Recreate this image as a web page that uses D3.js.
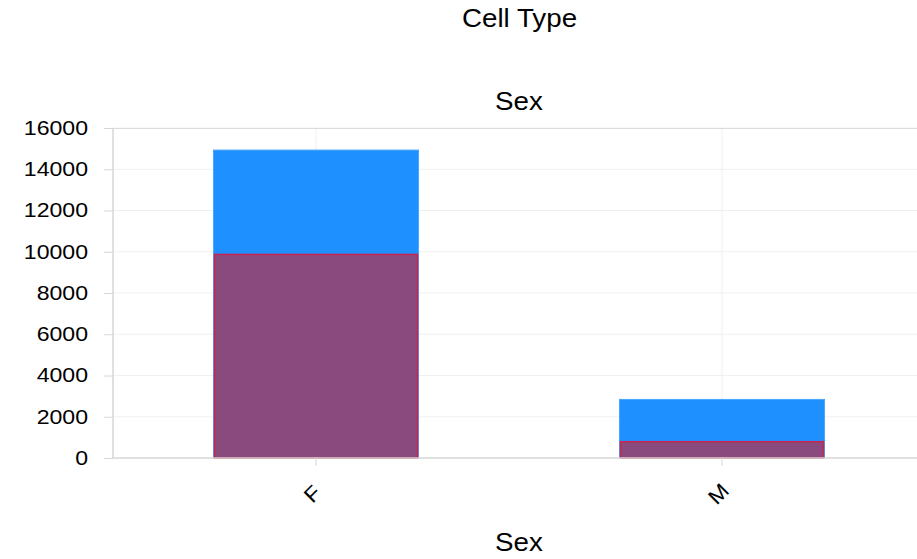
<!DOCTYPE html>
<html><head><meta charset="utf-8">
<script src="https://cdn.jsdelivr.net/npm/d3@7"></script>
<style>body{margin:0;background:#fff}svg{display:block}text{font-family:"Liberation Sans",Arial,sans-serif;fill:#000}</style>
</head><body>
<script>
const categories = ["F", "M"];
const totalValues = [14930, 2840];
const subsetValues = [9870, 790];
const yTicks = [0, 2000, 4000, 6000, 8000, 10000, 12000, 14000, 16000];

const W = 917, H = 559;
const svg = d3.select("body").append("svg").attr("width", W).attr("height", H);
const FONT = "Liberation Sans, Arial, sans-serif";

const x = d3.scaleBand().domain(categories).range([113, 925]).paddingInner(0.495).paddingOuter(0.2475);
const y = d3.scaleLinear().domain([0, 16000]).range([458, 128]);

// grid
svg.append("g").selectAll("line").data(yTicks.slice(1)).join("line")
  .attr("x1", 113).attr("x2", W).attr("y1", d => y(d)).attr("y2", d => y(d))
  .attr("stroke", "#f0f0f0").attr("stroke-width", 1);
svg.append("g").selectAll("line").data(categories).join("line")
  .attr("x1", d => x(d) + x.bandwidth()/2).attr("x2", d => x(d) + x.bandwidth()/2)
  .attr("y1", 128).attr("y2", 458).attr("stroke", "#f0f0f0");
svg.append("line").attr("x1", 113).attr("x2", W).attr("y1", 128.5).attr("y2", 128.5).attr("stroke", "#dcdcdc");

// bars
svg.append("g").selectAll("rect").data(categories).join("rect")
  .attr("x", d => x(d)).attr("width", x.bandwidth())
  .attr("y", (d, i) => y(totalValues[i])).attr("height", (d, i) => y(0) - y(totalValues[i]))
  .attr("fill", "#1e90ff").attr("stroke", "#4aa6ff").attr("stroke-width", 1);
svg.append("g").selectAll("rect").data(categories).join("rect")
  .attr("x", d => x(d) + 1).attr("width", x.bandwidth() - 2)
  .attr("y", (d, i) => y(subsetValues[i])).attr("height", (d, i) => y(0) - y(subsetValues[i]))
  .attr("fill", "#8b4a7e").attr("stroke", "#c8254f").attr("stroke-width", 1.5);

// y axis
const ya = svg.append("g").attr("transform", "translate(113,0)")
  .call(d3.axisLeft(y).tickValues(yTicks).tickSize(9).tickPadding(6).tickFormat(d3.format("d")));
ya.select(".domain").attr("stroke", "#d6d6d6").attr("stroke-width", 1.5).attr("d", "M0,128V458");
ya.selectAll(".tick line").attr("stroke", "#d6d6d6");
ya.selectAll("text").style("font-size", "21px").style("font-family", FONT).attr("fill", "#000")
  .attr("x", 0).attr("dy", "0.3em").attr("transform", "translate(-25,0) scale(1.1,1)");

// x axis
const xa = svg.append("g").attr("transform", "translate(0,458)")
  .call(d3.axisBottom(x).tickSize(8).tickPadding(0));
xa.select(".domain").attr("stroke", "#d6d6d6").attr("stroke-width", 1.5).attr("d", "M113,0H917");
xa.selectAll(".tick line").attr("stroke", "#d6d6d6");
xa.selectAll("text").style("font-size", "21px").style("font-family", FONT).attr("fill", "#000")
  .attr("text-anchor", "middle").attr("dy", null).attr("y", null)
  .attr("transform", "translate(1.5,41) rotate(-45) scale(1.1,1)");

// titles
function title(txt, cx, by) {
  svg.append("text").attr("transform", `translate(${cx},${by}) scale(1.11,1)`)
    .attr("text-anchor", "middle").style("font-size", "25px").style("font-family", FONT).text(txt);
}
title("Cell Type", 519.5, 27);
title("Sex", 519, 110);
title("Sex", 519, 550.5);
</script>
</body></html>
